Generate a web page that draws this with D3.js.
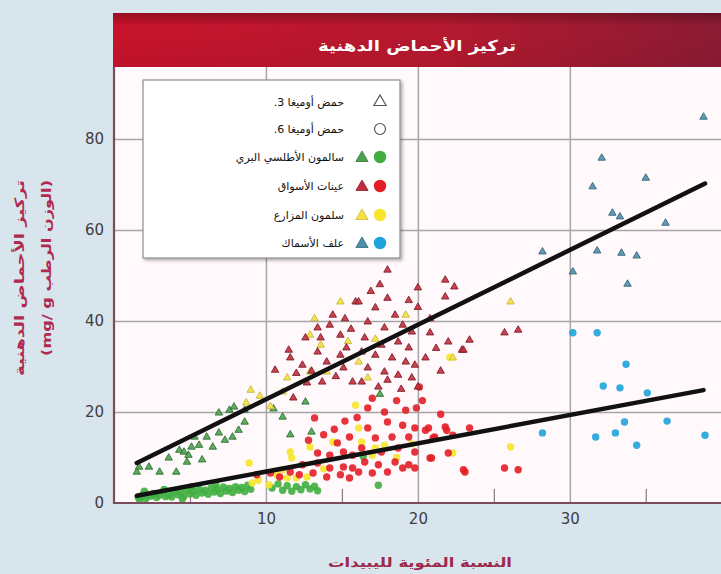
<!DOCTYPE html>
<html lang="ar">
<head>
<meta charset="utf-8">
<script src="https://cdn.jsdelivr.net/npm/d3@7"></script>
<style>
  html, body { margin: 0; padding: 0; background: #d9e5ed; }
  svg { display: block; }
  .tick text { font-family: "DejaVu Sans", sans-serif; }
</style>
</head>
<body>
<svg id="chart" width="721" height="574"></svg>
<script>
// ---- Data: % lipids (x) vs fatty-acid concentration, mg/g wet weight (y) ----
// Wild Atlantic salmon
const omega3Wild = [[1.5,6.8],[1.65,7.9],[2.3,7.9],[3.0,6.8],[4.1,6.8],[3.6,9.9],[4.3,11.6],[4.9,10.5],[5.1,12.3],[4.8,9.0],[5.8,9.5],[5.6,12.7],[6.1,14.5],[6.5,12.3],[6.9,15.4],[7.3,13.8],[6.9,19.8],[7.6,20.4],[8.2,16.0],[7.8,14.5],[8.6,17.8],[7.9,21.1],[5.3,14.5],[4.6,11.2],[8.6,20.4],[10.5,20.7],[11.1,18.9],[12.6,22.2],[11.6,15.0],[13.0,15.6],[17.5,23.9]];
const omega6Wild = [[1.6,1.2],[1.9,1.8],[2.1,1.0],[2.4,1.5],[2.6,2.1],[2.8,1.2],[3.0,1.7],[3.2,2.4],[3.4,1.4],[3.6,2.0],[3.8,1.3],[4.0,2.6],[4.2,1.8],[4.4,2.3],[4.6,1.5],[4.8,2.9],[5.0,2.0],[5.2,2.6],[5.4,1.7],[5.6,3.1],[5.8,2.2],[6.0,2.8],[6.2,1.9],[6.4,3.3],[6.6,2.4],[6.8,3.0],[7.0,2.1],[7.2,3.5],[7.4,2.6],[7.6,3.2],[7.8,2.3],[8.0,3.6],[8.2,2.8],[8.4,3.4],[8.6,2.5],[8.8,3.9],[9.0,3.0],[2.0,2.6],[3.3,3.0],[5.1,3.6],[6.7,4.0],[1.7,0.6],[4.5,0.9],[10.4,3.3],[10.8,4.2],[11.1,2.8],[11.4,3.8],[11.7,2.6],[12.0,3.6],[12.3,2.9],[12.6,4.0],[12.9,3.1],[13.2,3.7],[13.4,2.7],[17.4,3.9],[16.4,10.2]];
// Market samples
const omega3Market = [[10.6,29.2],[11.5,33.6],[11.6,31.9],[12.4,30.3],[12.6,36.3],[13.4,38.5],[13.6,36.3],[14.4,41.3],[14.2,39.1],[14.9,36.9],[15.9,44.2],[15.3,34.1],[13.4,33.2],[14.0,31.0],[14.9,32.5],[15.7,26.6],[13.7,26.6],[12.7,26.4],[11.8,23.1],[15.1,29.7],[16.1,44.2],[17.2,42.9],[18.0,45.0],[18.5,41.3],[16.7,39.8],[17.8,38.5],[19.0,39.1],[19.6,37.6],[16.5,36.3],[17.6,34.7],[18.7,35.4],[19.4,34.1],[16.3,33.2],[17.2,32.5],[18.3,31.9],[19.2,31.0],[19.8,30.3],[20.5,31.9],[16.7,29.7],[17.8,28.8],[18.7,28.1],[19.6,27.5],[16.3,26.6],[17.4,25.5],[18.0,27.0],[20.0,25.5],[18.0,51.2],[20.0,47.3],[21.8,49.0],[22.4,47.5],[21.8,45.3],[20.0,43.0],[20.8,37.4],[22.0,35.4],[22.9,33.6],[23.4,35.8],[23.0,33.6],[25.7,37.4],[26.6,38.0],[15.2,40.5],[16.9,46.5],[17.5,48.0],[19.4,44.5],[20.8,40.5],[21.2,34.0],[14.6,27.8],[13.0,29.0],[15.6,38.2],[18.9,25.0],[21.5,29.0],[12.0,28.5]];
const omega6Market = [[16.7,20.9],[17.8,20.0],[19.2,20.4],[19.9,20.9],[18.0,17.8],[19.0,17.1],[16.7,16.5],[19.8,16.5],[20.7,16.5],[17.2,14.3],[18.3,14.5],[19.4,14.5],[21.8,16.7],[22.3,14.9],[21.1,14.5],[16.3,12.1],[17.6,11.2],[18.7,12.1],[19.8,11.2],[20.9,9.9],[22.0,11.0],[16.5,9.0],[17.4,8.4],[18.5,9.0],[19.4,8.4],[16.1,6.8],[17.0,6.6],[18.0,6.8],[19.0,7.7],[19.8,7.7],[23.1,6.8],[13.2,18.7],[15.2,18.0],[13.8,15.0],[15.5,14.5],[14.7,13.2],[13.4,11.0],[14.2,10.5],[15.1,11.2],[15.7,10.5],[12.4,8.4],[13.4,8.8],[14.2,7.7],[15.1,7.9],[15.7,7.7],[11.6,6.8],[12.2,6.2],[13.1,6.6],[14.0,5.7],[14.9,6.2],[15.5,5.5],[9.4,6.2],[10.3,6.6],[10.9,5.7],[20.5,16.0],[21.9,16.0],[23.4,16.5],[21.0,14.3],[20.8,9.9],[23.0,7.3],[25.7,7.7],[26.6,7.3],[20.1,25.5],[20.3,22.5],[21.5,19.5],[17.0,23.0],[18.6,22.5],[16.0,18.8],[14.5,16.2],[12.8,13.8]];
// Farmed salmon
const omega3Farmed = [[14.9,44.2],[12.9,36.9],[13.6,34.7],[11.1,24.4],[14.0,28.8],[12.9,28.8],[16.1,31.0],[16.7,27.5],[19.2,41.3],[22.3,31.9],[26.1,44.2],[9.0,24.8],[8.7,22.0],[9.6,23.5],[10.3,21.2],[11.4,27.5],[15.4,35.5],[13.2,40.5],[17.2,36.0]];
const omega6Farmed = [[11.6,11.2],[11.7,9.9],[10.7,6.2],[11.4,5.5],[12.0,5.5],[12.7,5.7],[11.1,7.3],[12.9,12.3],[14.4,13.4],[16.3,13.4],[17.2,12.1],[17.8,12.7],[17.0,10.5],[16.1,16.5],[15.9,21.5],[22.3,11.0],[26.1,12.3],[22.1,32.0],[8.9,8.8],[9.1,4.4],[9.5,5.0],[18.6,10.0],[19.6,13.0],[13.8,7.5],[10.2,4.0]];
// Fish feed
const omega3Feed = [[38.8,84.8],[32.1,75.8],[31.5,69.5],[35.0,71.4],[32.8,63.7],[33.3,62.9],[36.3,61.5],[28.2,55.2],[31.8,55.4],[33.4,54.9],[34.4,54.3],[30.2,50.8],[33.8,48.1]];
const omega6Feed = [[30.2,37.4],[31.8,37.4],[33.7,30.5],[32.2,25.7],[33.3,25.3],[35.1,24.2],[36.4,18.0],[33.6,17.8],[28.2,15.4],[31.7,14.5],[33.0,15.4],[34.4,12.7],[38.9,14.9]];

// Fitted trend lines (start / end points)
const trendOmega3 = [[1.5,8.8],[38.9,70.2]];
const trendOmega6 = [[1.5,1.6],[38.8,24.8]];

const xTicks = [10, 20, 30];
const xMinorTicks = [5, 15, 25, 35];
const yTicks = [0, 20, 40, 60, 80];

const chartTitle = "تركيز الأحماض الدهنية";
const yTitleLines = ["تركيز الأحماض الدهنية", "(الوزن الرطب mg/ g)"];
const xTitle = "النسبة المئوية لليبيدات";

const acidLegend = [
  { label: "حمض أوميغا 3.", shape: "triangle" },
  { label: "حمض أوميغا 6.", shape: "circle" }
];
const groupLegend = [
  { label: "سالمون الأطلسي البري", key: "wild" },
  { label: "عينات الأسواق", key: "market" },
  { label: "سلمون المزارع", key: "farmed" },
  { label: "علف الأسماك", key: "feed" }
];

// ---- Styling ----
const groupColor = {
  wild:   { tri: "#4ea24e", triStroke: "#2f7335", dot: "#3fae3f" },
  market: { tri: "#c42e3c", triStroke: "#7e1f2c", dot: "#e41d26" },
  farmed: { tri: "#f1e23e", triStroke: "#cdb83a", dot: "#f6e52a" },
  feed:   { tri: "#4f8fab", triStroke: "#35667e", dot: "#1ea3da" }
};

const W = 721, H = 574;
const plot = { left: 114, right: 721, top: 67, bottom: 503 };

const svg = d3.select("#chart");
const defs = svg.append("defs");

const grad = defs.append("linearGradient").attr("id", "titleGrad")
  .attr("x1", "0%").attr("x2", "100%").attr("y1", "0%").attr("y2", "0%");
grad.append("stop").attr("offset", "0%").attr("stop-color", "#c8132c");
grad.append("stop").attr("offset", "55%").attr("stop-color", "#b5192f");
grad.append("stop").attr("offset", "100%").attr("stop-color", "#8c1b34");

const vgrad = defs.append("linearGradient").attr("id", "titleShade")
  .attr("x1", "0%").attr("x2", "0%").attr("y1", "0%").attr("y2", "100%");
vgrad.append("stop").attr("offset", "0%").attr("stop-color", "#000").attr("stop-opacity", 0.25);
vgrad.append("stop").attr("offset", "25%").attr("stop-color", "#000").attr("stop-opacity", 0);
vgrad.append("stop").attr("offset", "100%").attr("stop-color", "#000").attr("stop-opacity", 0.05);

const shadow = defs.append("filter").attr("id", "legendShadow")
  .attr("x", "-10%").attr("y", "-10%").attr("width", "130%").attr("height", "130%");
shadow.append("feDropShadow").attr("dx", 2).attr("dy", 2).attr("stdDeviation", 1.5)
  .attr("flood-color", "#000").attr("flood-opacity", 0.3);

const clip = defs.append("clipPath").attr("id", "plotClip");
clip.append("rect").attr("x", plot.left).attr("y", plot.top)
  .attr("width", plot.right - plot.left).attr("height", plot.bottom - plot.top);

// Scales
const x = d3.scaleLinear().domain([0, 39.95]).range([plot.left, plot.right]);
const y = d3.scaleLinear().domain([0, 95.8]).range([plot.bottom, plot.top]);

// Plot background
svg.append("rect").attr("x", plot.left).attr("y", plot.top)
  .attr("width", plot.right - plot.left).attr("height", plot.bottom - plot.top)
  .attr("fill", "#fff9fb");

// Title bar
svg.append("rect").attr("x", 113).attr("y", 13).attr("width", W - 113).attr("height", 54)
  .attr("fill", "url(#titleGrad)");
svg.append("rect").attr("x", 113).attr("y", 13).attr("width", W - 113).attr("height", 54)
  .attr("fill", "url(#titleShade)");
svg.append("text").attr("x", 417).attr("y", 51)
  .attr("text-anchor", "middle").attr("direction", "rtl")
  .attr("font-family", "DejaVu Sans, sans-serif").attr("font-weight", "bold")
  .attr("font-size", 15).attr("fill", "#ffffff")
  .attr("textLength", 198).attr("lengthAdjust", "spacingAndGlyphs")
  .text(chartTitle);

// Gridlines
const gridX = svg.append("g").attr("transform", `translate(0,${plot.bottom})`)
  .call(d3.axisBottom(x).tickValues(xTicks).tickSize(-(plot.bottom - plot.top)).tickFormat(""));
gridX.select(".domain").remove();
gridX.selectAll("line").attr("stroke", "#a9a4a7").attr("stroke-width", 1.5);

const gridY = svg.append("g").attr("transform", `translate(${plot.left},0)`)
  .call(d3.axisLeft(y).tickValues(yTicks.filter(v => v > 0)).tickSize(-(plot.right - plot.left)).tickFormat(""));
gridY.select(".domain").remove();
gridY.selectAll("line").attr("stroke", "#a9a4a7").attr("stroke-width", 1.5);

// Minor ticks on the bottom edge
const minor = svg.append("g").attr("transform", `translate(0,${plot.bottom})`)
  .call(d3.axisBottom(x).tickValues(xMinorTicks).tickSize(-14).tickFormat(""));
minor.select(".domain").remove();
minor.selectAll("line").attr("stroke", "#8a8488").attr("stroke-width", 1.3);

// Points
const marks = svg.append("g").attr("clip-path", "url(#plotClip)");
const tri = d3.symbol().type(d3.symbolTriangle).size(24);

function drawDots(data, key) {
  marks.append("g").selectAll("circle").data(data).join("circle")
    .attr("cx", d => x(d[0])).attr("cy", d => y(d[1])).attr("r", 3.7)
    .attr("fill", groupColor[key].dot).attr("fill-opacity", 0.9);
}
function drawTris(data, key) {
  marks.append("g").selectAll("path").data(data).join("path")
    .attr("d", tri)
    .attr("transform", d => `translate(${x(d[0])},${y(d[1])})`)
    .attr("fill", groupColor[key].tri).attr("fill-opacity", 0.9)
    .attr("stroke", groupColor[key].triStroke).attr("stroke-width", 0.9);
}

drawDots(omega6Wild, "wild");
drawTris(omega3Wild, "wild");
drawDots(omega6Farmed, "farmed");
drawTris(omega3Farmed, "farmed");
drawDots(omega6Market, "market");
drawTris(omega3Market, "market");
drawDots(omega6Feed, "feed");
drawTris(omega3Feed, "feed");

// Trend lines
const line = d3.line().x(d => x(d[0])).y(d => y(d[1]));
[trendOmega3, trendOmega6].forEach(t => {
  marks.append("path").datum(t).attr("d", line)
    .attr("fill", "none").attr("stroke", "#111").attr("stroke-width", 4.5)
    .attr("stroke-linecap", "round");
});

// Axes
const xAxis = svg.append("g").attr("transform", `translate(0,${plot.bottom})`)
  .call(d3.axisBottom(x).tickValues(xTicks).tickSize(0).tickPadding(10));
xAxis.select(".domain").remove();
xAxis.selectAll("text").attr("font-size", 15).attr("fill", "#3d3d45");

const yAxis = svg.append("g").attr("transform", `translate(${plot.left},0)`)
  .call(d3.axisLeft(y).tickValues(yTicks).tickSize(0).tickPadding(10));
yAxis.select(".domain").remove();
yAxis.selectAll("text").attr("font-size", 15).attr("fill", "#3d3d45");

// Plot frame (left and bottom edges)
svg.append("path")
  .attr("d", `M${plot.left},${plot.top} V${plot.bottom} H${W}`)
  .attr("fill", "none").attr("stroke", "#7c4a5c").attr("stroke-width", 2.2);

// Axis titles
svg.append("text").attr("x", 420).attr("y", 567)
  .attr("text-anchor", "middle").attr("direction", "rtl")
  .attr("font-family", "DejaVu Sans, sans-serif").attr("font-weight", "bold")
  .attr("font-size", 13).attr("fill", "#9b2a4c")
  .attr("textLength", 184).attr("lengthAdjust", "spacingAndGlyphs")
  .text(xTitle);

const yTitleLayout = [
  { cx: 24, cy: 278, len: 196 },
  { cx: 51, cy: 268, len: 176 }
];
yTitleLines.forEach((t, i) => {
  const p = yTitleLayout[i];
  svg.append("text")
    .attr("transform", `translate(${p.cx},${p.cy}) rotate(-90)`)
    .attr("text-anchor", "middle").attr("direction", "rtl")
    .attr("font-family", "DejaVu Sans, sans-serif").attr("font-weight", "bold")
    .attr("font-size", 13).attr("fill", "#b02a50")
    .attr("textLength", p.len).attr("lengthAdjust", "spacingAndGlyphs")
    .text(t);
});

// Legend
const lg = svg.append("g");
lg.append("rect").attr("x", 143).attr("y", 80).attr("width", 257).attr("height", 178)
  .attr("fill", "#ffffff").attr("stroke", "#8d8d8d").attr("stroke-width", 1.2)
  .attr("filter", "url(#legendShadow)");

const rowY = [102, 129, 157, 186, 215, 243];
const legTri = d3.symbol().type(d3.symbolTriangle).size(64);

acidLegend.forEach((d, i) => {
  const ry = rowY[i];
  if (d.shape === "triangle") {
    lg.append("path").attr("d", legTri).attr("transform", `translate(380,${ry})`)
      .attr("fill", "none").attr("stroke", "#555").attr("stroke-width", 1.2);
  } else {
    lg.append("circle").attr("cx", 380).attr("cy", ry).attr("r", 5.5)
      .attr("fill", "none").attr("stroke", "#555").attr("stroke-width", 1.2);
  }
  lg.append("text").attr("x", 344).attr("y", ry + 4)
    .attr("text-anchor", "start").attr("direction", "rtl")
    .attr("font-family", "DejaVu Sans, sans-serif")
    .attr("font-size", 11).attr("fill", "#111").text(d.label);
});

groupLegend.forEach((d, i) => {
  const ry = rowY[i + 2];
  const c = groupColor[d.key];
  lg.append("path").attr("d", legTri).attr("transform", `translate(362,${ry + 1})`)
    .attr("fill", c.tri).attr("stroke", c.triStroke).attr("stroke-width", 0.8);
  lg.append("circle").attr("cx", 380).attr("cy", ry).attr("r", 6.2)
    .attr("fill", c.dot);
  lg.append("text").attr("x", 344).attr("y", ry + 4)
    .attr("text-anchor", "start").attr("direction", "rtl")
    .attr("font-family", "DejaVu Sans, sans-serif")
    .attr("font-size", 11).attr("fill", "#111").text(d.label);
});
</script>
</body>
</html>
